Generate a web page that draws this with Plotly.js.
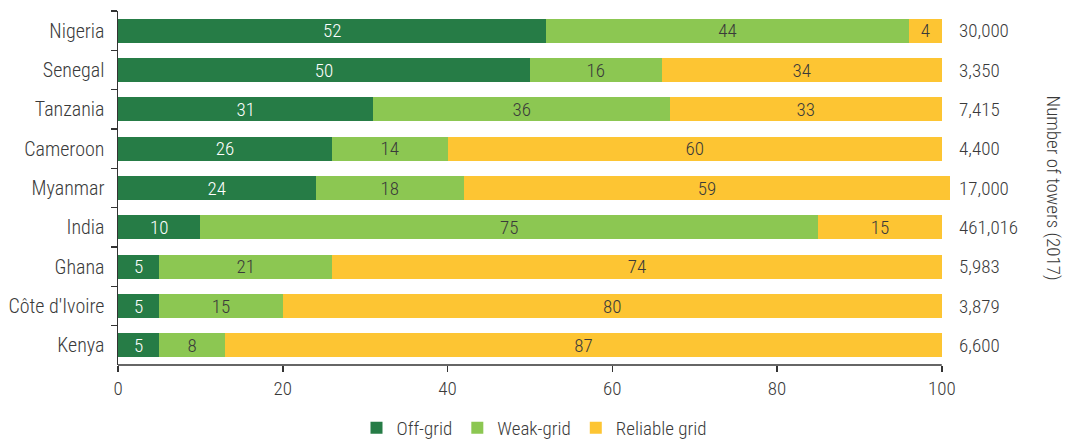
<!DOCTYPE html>
<html><head><meta charset="utf-8">
<script src="https://cdn.plot.ly/plotly-3.0.1.min.js"></script>
<style>body{margin:0;background:#fff}#chart{width:1067px;height:440px}</style>
</head><body><div id="chart"></div>
<script>
const countries = ["Nigeria","Senegal","Tanzania","Cameroon","Myanmar","India","Ghana","Côte d'Ivoire","Kenya"];
const offGrid = [52,50,31,26,24,10,5,5,5];
const weakGrid = [44,16,36,14,18,75,21,15,8];
const reliableGrid = [4,34,33,60,59,15,74,80,87];
const towers = ["30,000","3,350","7,415","4,400","17,000","461,016","5,983","3,879","6,600"];
const xTicks = [0,20,40,60,80,100];

const FONT = "'Roboto Condensed','Liberation Sans Narrow','Arial Narrow',Roboto,sans-serif";
const TXT = '#3a3a3a';
const FS = 19, FW = 300;

function tr(name, vals, color, txtColor){
  return {type:'bar', orientation:'h', name:name, y:countries, x:vals,
    marker:{color:color}, text:vals.map(String), texttemplate:'%{text}',
    textposition:'inside', insidetextanchor:'middle', textangle:0, constraintext:'none',
    insidetextfont:{family:FONT,size:FS,weight:FW,color:txtColor}, hoverinfo:'none'};
}
const data = [
  tr('Off-grid', offGrid, '#267C46', '#ffffff'),
  tr('Weak-grid', weakGrid, '#8CC752', TXT),
  tr('Reliable grid', reliableGrid, '#FDC533', TXT)
];

const annotations = countries.map((c,i)=>({xref:'paper', yref:'y', x:1, y:c, xanchor:'left',
  xshift:7, text:towers[i], showarrow:false, font:{family:FONT,size:FS,weight:FW,color:TXT}}));
annotations.push({xref:'paper', yref:'paper', x:1, xshift:117, y:0.5, textangle:90,
  text:'Number of towers (2017)', showarrow:false, font:{family:FONT,size:FS,weight:FW,color:TXT}});

const layout = {
  width:1067, height:440, barmode:'stack', bargap:0.39,
  margin:{l:118, r:117, t:11, b:75, autoexpand:false},
  paper_bgcolor:'#fff', plot_bgcolor:'#fff',
  font:{family:FONT,size:FS,weight:FW,color:TXT},
  uniformtext:{mode:'show', minsize:FS},
  xaxis:{range:[0,101], tickvals:xTicks, ticktext:xTicks.map(String), showgrid:false, zeroline:false,
    showline:false, ticks:'outside', ticklen:6, tickcolor:'#333', tickwidth:1.5,
    tickfont:{family:FONT,size:FS,weight:FW,color:TXT}, fixedrange:true},
  yaxis:{autorange:'reversed', type:'category', showgrid:false, zeroline:false, showline:true,
    linecolor:'#333', linewidth:1.5, ticks:'outside', tickson:'boundaries', ticklen:6, tickcolor:'#333', tickwidth:1.5,
    tickfont:{family:FONT,size:20,weight:FW,color:TXT}, ticklabelstandoff:8},
  shapes:[{type:'line', xref:'x', yref:'paper', x0:0, x1:100, y0:0, y1:0, line:{color:'#333', width:1.5}}],
  legend:{orientation:'h', x:0.5, xanchor:'center', y:-0.178, yanchor:'middle',
    font:{family:FONT,size:FS,weight:FW,color:TXT}, traceorder:'normal'},
  annotations:annotations, showlegend:true
};
Plotly.newPlot('chart', data, layout, {displayModeBar:false, staticPlot:true});
</script></body></html>
